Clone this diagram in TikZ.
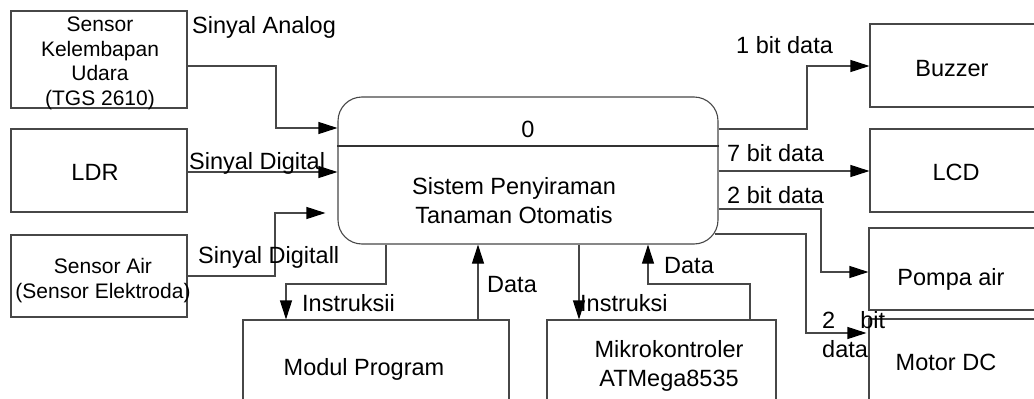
\documentclass[tikz,border=0pt]{standalone}
\usepackage{fontspec}
\setmainfont{Liberation Sans}
\usetikzlibrary{arrows.meta}

\begin{document}
\begin{tikzpicture}[x=1pt,y=-1pt,
  box/.style={draw=black!72, line width=1.1pt, rectangle, inner sep=0pt},
  flow/.style={draw=black!72, line width=1.1pt,
    -{Triangle[length=19pt,width=12pt,color=black]}},
  rule/.style={draw=black!80, line width=1.1pt},
  lbl/.style={font=\fontsize{23.5}{29}\selectfont, inner sep=0pt, align=center},
  sml/.style={font=\fontsize{21}{24.5}\selectfont, inner sep=0pt, align=center},
]
% canvas
\fill[white] (0,0) rectangle (1034,399);
\useasboundingbox (0,0) rectangle (1034,399);
\clip (0,0) rectangle (1034,399);

% external entities, left
\node[box, minimum width=176pt, minimum height=97pt] (sk) at (99,59.5) {};
\node[box, minimum width=176pt, minimum height=83pt] (ldr) at (99,170.5) {};
\node[box, minimum width=176pt, minimum height=82pt] (sa) at (99,276) {};

% central process
\node[box, rounded corners=24pt, minimum width=380pt, minimum height=147pt] (proc) at (528,170.5) {};
\draw[rule] (proc.west |- 0,146) -- (proc.east |- 0,146);

% external entities, right
\node[box, minimum width=168pt, minimum height=83pt] (buz) at (954,65.5) {};
\node[box, minimum width=168pt, minimum height=83pt] (lcd) at (954,170.5) {};
\node[box, minimum width=169pt, minimum height=82pt] (pompa) at (953.5,269) {};
\node[box, minimum width=169pt, minimum height=100pt] (motor) at (953.5,369) {};

% stores / modules, bottom
\node[box, minimum width=266pt, minimum height=100pt] (modul) at (376,370) {};
\node[box, minimum width=229pt, minimum height=100pt] (mikro) at (661.5,370) {};

% data flows into the process
\draw[flow] (sk.east |- 0,66) -- (276,66) -- (276,128) -- (proc.west |- 0,128);
\draw[flow] (ldr.east |- 0,172) -- (proc.west |- 0,172);
\draw[flow, shorten >=12pt] (sa.east |- 0,276) -- (275,276) -- (275,213) -- (proc.west |- 0,213);

% data flows out of the process
\draw[flow] (proc.east |- 0,129) -- (807,129) -- (807,66) -- (buz.west |- 0,66);
\draw[flow] (proc.east |- 0,171) -- (lcd.west |- 0,171);
\draw[flow] (proc.east |- 0,209) -- (821,209) -- (821,272) -- (pompa.west |- 0,272);
\draw[flow, shorten >=2pt] ([xshift=-4pt]proc.east |- 0,234) -- (806,234) -- (806,333) -- (motor.west |- 0,333);

% flows to and from the bottom modules
\draw[flow] (proc.south -| 386,0) -- (386,284) -- (286,284) -- (modul.north -| 286,0);
\draw[flow] (modul.north -| 478,0) -- (proc.south -| 478,0);
\draw[flow] (proc.south -| 579,0) -- (mikro.north -| 579,0);
\draw[flow] (mikro.north -| 750,0) -- (750,284) -- (648,284) -- (proc.south -| 648,0);

% box texts (multi-line nodes sit on the baseline of their last line)
\node[sml, anchor=base] (tsk) at (100,105) {Sensor\\Kelembapan\\Udara\\(TGS 2610)};
\node[lbl, anchor=base] (tldr) at (95,180) {LDR};
\node[sml, anchor=base] (tsa) at (103,298) {Sensor Air\\(Sensor Elektroda)};
\node[lbl, anchor=base] (tzero) at (528,137) {0};
\node[lbl, anchor=base] (tproc) at (514,223) {Sistem Penyiraman\\Tanaman Otomatis};
\node[lbl, anchor=base] (tbuz) at (952,76) {Buzzer};
\node[lbl, anchor=base] (tlcd) at (956,180) {LCD};
\node[lbl, anchor=base] (tpompa) at (951,285) {Pompa air};
\node[lbl, anchor=base] (tmotor) at (946,370) {Motor DC};
\node[lbl, anchor=base] (tmodul) at (364,375) {Modul Program};
\node[lbl, anchor=base] (tmikro) at (669,386) {Mikrokontroler\\ATMega8535};

% flow labels
\node[lbl, anchor=base west] (l1) at (192,33) {Sinyal Analog};
\node[lbl, anchor=base west] (l2) at (189,169) {Sinyal Digital};
\node[lbl, anchor=base west] (l3) at (198,263) {Sinyal Digitall};
\node[lbl, anchor=base west] (l4) at (736,53) {1 bit data};
\node[lbl, anchor=base west] (l5) at (727,161) {7 bit data};
\node[lbl, anchor=base west] (l6) at (727,203) {2 bit data};
\node[lbl, anchor=base west, align=left] (l7) at (822,357) {\makebox[63pt][s]{2 bit}\\data};
\node[lbl, anchor=base west] (l8) at (302,311) {Instruksii};
\node[lbl, anchor=base west] (l9) at (487,292) {Data};
\node[lbl, anchor=base west] (l10) at (580,311) {Instruksi};
\node[lbl, anchor=base west] (l11) at (664,273) {Data};
\end{tikzpicture}
\end{document}
